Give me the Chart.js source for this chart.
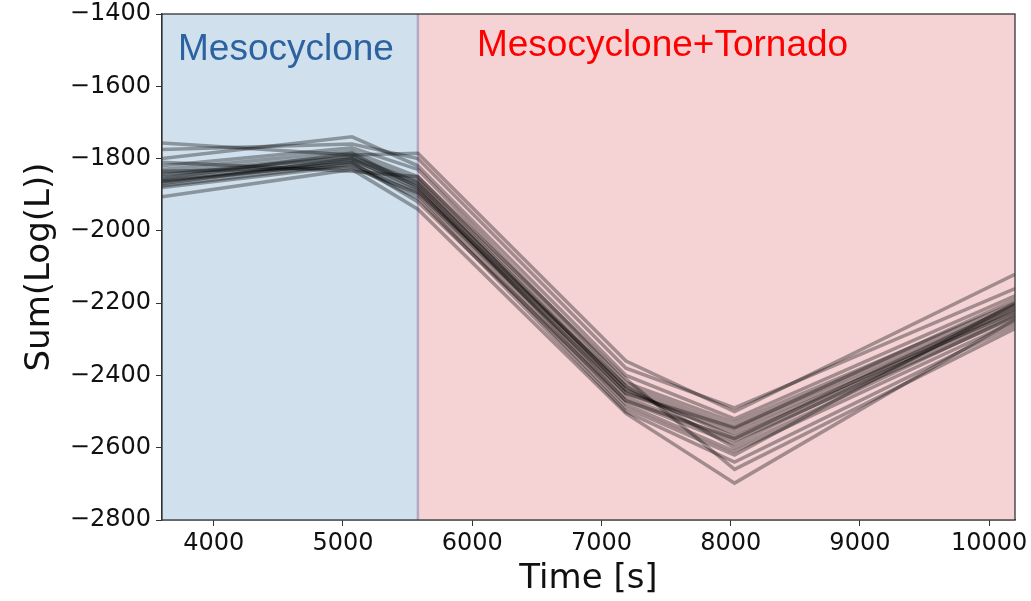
<!DOCTYPE html>
<html>
<head>
<meta charset="utf-8">
<script src="https://cdn.jsdelivr.net/npm/chart.js@4"></script>
<style>
  body { margin: 0; background: #fff; }
</style>
</head>
<body>
<canvas id="myChart" width="1031" height="601"></canvas>
<script>
// time steps (s) where each run was sampled
const times = [3600, 5070, 5580, 7190, 8030, 10200];
const tornadoStart = 5580;

// Sum(Log(L)) for each run
const run01 = [-1757, -1790, -1785, -2360, -2500, -2120];
const run02 = [-1775, -1760, -1800, -2380, -2490, -2160];
const run03 = [-1800, -1740, -1820, -2400, -2520, -2180];
const run04 = [-1820, -1770, -1830, -2420, -2530, -2200];
const run05 = [-1830, -1780, -1850, -2430, -2540, -2210];
const run06 = [-1840, -1790, -1860, -2440, -2550, -2220];
const run07 = [-1845, -1795, -1865, -2450, -2560, -2225];
const run08 = [-1850, -1800, -1870, -2440, -2570, -2230];
const run09 = [-1855, -1785, -1880, -2460, -2580, -2240];
const run10 = [-1860, -1805, -1875, -2470, -2590, -2215];
const run11 = [-1865, -1810, -1890, -2430, -2600, -2235];
const run12 = [-1870, -1800, -1885, -2480, -2610, -2250];
const run13 = [-1875, -1815, -1900, -2490, -2620, -2200];
const run14 = [-1880, -1820, -1910, -2500, -2640, -2260];
const run15 = [-1906, -1830, -1940, -2505, -2698, -2245];
const run16 = [-1810, -1835, -1850, -2410, -2660, -2270];
const run17 = [-1835, -1825, -1895, -2450, -2545, -2190];
const run18 = [-1862, -1810, -1920, -2470, -2575, -2205];

const runs = [run01, run02, run03, run04, run05, run06, run07, run08, run09,
              run10, run11, run12, run13, run14, run15, run16, run17, run18];

const xTicks = [4000, 5000, 6000, 7000, 8000, 9000, 10000];
const yTicks = [-2800, -2600, -2400, -2200, -2000, -1800, -1600, -1400];

const tickFont = { family: 'DejaVu Sans', size: 24 };
const titleFont = { family: 'DejaVu Sans', size: 34 };

// shaded regimes, divider and labels
const regimes = {
  id: 'regimes',
  beforeDatasetsDraw(chart) {
    const { ctx, chartArea: a, scales: { x } } = chart;
    const xb = x.getPixelForValue(tornadoStart);
    ctx.save();
    ctx.fillStyle = 'rgb(208,225,237)';
    ctx.fillRect(a.left, a.top, xb - a.left, a.bottom - a.top);
    ctx.fillStyle = 'rgb(245,211,213)';
    ctx.fillRect(xb, a.top, a.right - xb, a.bottom - a.top);
    ctx.strokeStyle = 'rgb(180,168,195)';
    ctx.lineWidth = 2.5;
    ctx.beginPath();
    ctx.moveTo(xb, a.top);
    ctx.lineTo(xb, a.bottom);
    ctx.stroke();

    ctx.font = '37px "Liberation Sans", Arial, sans-serif';
    ctx.textBaseline = 'middle';
    ctx.textAlign = 'left';
    ctx.fillStyle = '#2c62a0';
    ctx.fillText('Mesocyclone', a.left + 16, 50);
    ctx.fillStyle = '#ff0000';
    ctx.fillText('Mesocyclone+Tornado', xb + 59, 46);
    ctx.restore();
  },
  afterDraw(chart) {
    const { ctx, chartArea: a } = chart;
    ctx.save();
    ctx.strokeStyle = '#333';
    ctx.lineWidth = 1.3;
    ctx.strokeRect(a.left, a.top, a.right - a.left, a.bottom - a.top);
    ctx.restore();
  }
};

const ctx = document.getElementById('myChart').getContext('2d');

const myChart = new Chart(ctx, {
  type: 'line',
  data: {
    datasets: runs.map((r, i) => ({
      label: 'run ' + (i + 1),
      data: r.map((v, j) => ({ x: times[j], y: v })),
      borderColor: 'rgba(0,0,0,0.34)',
      borderWidth: 3.5,
      pointRadius: 0,
      tension: 0,
      fill: false
    }))
  },
  options: {
    responsive: false,
    animation: false,
    layout: { padding: { top: 14, right: 16, left: 0, bottom: 0 } },
    plugins: {
      legend: { display: false },
      tooltip: { enabled: false }
    },
    scales: {
      x: {
        type: 'linear',
        min: 3600,
        max: 10200,
        afterBuildTicks: (s) => { s.ticks = xTicks.map(v => ({ value: v })); },
        afterFit: (s) => { s.height = 81; },
        grid: { drawOnChartArea: false, drawTicks: true, tickLength: 6, color: '#333' },
        border: { color: '#333', width: 1.3 },
        ticks: { font: tickFont, color: '#111', padding: 3, maxRotation: 0,
                 callback: (v) => String(v) },
        title: { display: true, text: 'Time [s]', font: titleFont, color: '#111',
                 padding: { top: 0, bottom: 1 } }
      },
      y: {
        min: -2800,
        max: -1400,
        afterBuildTicks: (s) => { s.ticks = yTicks.map(v => ({ value: v })); },
        afterFit: (s) => { s.width = 162; s.paddingTop = 0; s.paddingBottom = 0; },
        grid: { drawOnChartArea: false, drawTicks: true, tickLength: 6, color: '#333' },
        border: { color: '#333', width: 1.3 },
        ticks: { font: tickFont, color: '#111', padding: 5,
                 callback: (v) => String(v).replace('-', '\u2212') },
        title: { display: true, text: 'Sum(Log(L))', font: titleFont, color: '#111',
                 padding: { top: 20, bottom: 0 } }
      }
    }
  },
  plugins: [regimes]
});
</script>
</body>
</html>
